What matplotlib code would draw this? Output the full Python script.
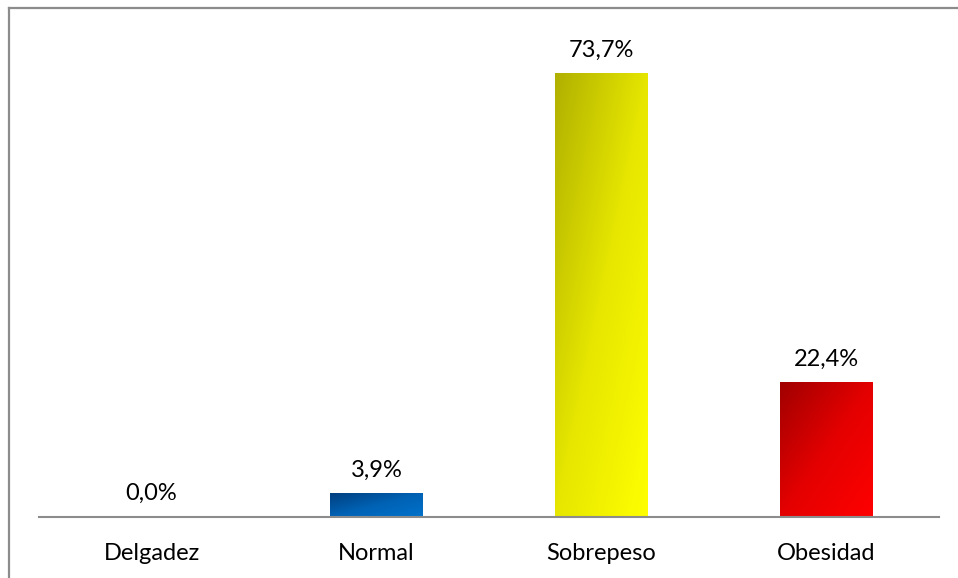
import numpy as np
import matplotlib
matplotlib.use("Agg")
import matplotlib.pyplot as plt
from matplotlib.colors import LinearSegmentedColormap
from matplotlib.lines import Line2D

categories = ["Delgadez", "Normal", "Sobrepeso", "Obesidad"]
values = [0.0, 3.9, 73.7, 22.4]
labels = ["0,0%", "3,9%", "73,7%", "22,4%"]
dark_colors = ["#203864", "#003f7f", "#b0b000", "#a00000"]
mid_colors = ["#3560a8", "#0062b4", "#e6e600", "#e40000"]
light_colors = ["#4472c4", "#0072cc", "#ffff00", "#ff0000"]

W, H = 958, 578
fig = plt.figure(figsize=(W / 100, H / 100), dpi=100)
fig.patch.set_facecolor("white")
plt.rcParams['font.family'] = ['Lato', 'DejaVu Sans']

ax = fig.add_axes([39 / W, (H - 517) / H, 900 / W, 492 / H])
ax.set_facecolor("none")

bar_w = 0.41
x = np.arange(len(categories))
bars = ax.bar(x, values, width=bar_w, color="none", edgecolor="none")

gx, gy = np.meshgrid(np.linspace(0, 1, 128), np.linspace(0, 1, 128))
for i, b in enumerate(bars):
    v = values[i]
    if v <= 0:
        continue
    x0 = b.get_x()
    cmap = LinearSegmentedColormap.from_list(
        "g", [(0.0, dark_colors[i]), (0.5, mid_colors[i]), (1.0, light_colors[i])])
    # diagonal gradient: darker at top-left, brighter at bottom-right
    t = 0.5 * gx + 0.5 * gy
    ax.imshow(t, cmap=cmap, vmin=0, vmax=1, extent=[x0, x0 + bar_w, 0, v],
              aspect="auto", origin="upper", zorder=2, interpolation="bilinear")

ax.set_xlim(-0.5, len(categories) - 0.5)
ax.set_ylim(0, 492 / 6.02)

for i, v in enumerate(values):
    ax.annotate(labels[i], (x[i], v), xytext=(0, 12), textcoords="offset points",
                ha="center", va="baseline", fontsize=17, color="#000000")

for s in ["top", "right", "left"]:
    ax.spines[s].set_visible(False)
ax.spines["bottom"].set_color("#8c8c8c")
ax.spines["bottom"].set_linewidth(1.5)
ax.set_yticks([])
ax.set_xticks(x)
ax.set_xticklabels(categories, fontsize=17, color="#000000")
ax.tick_params(axis="x", length=0, pad=19)

# chart area border (left and top visible)
fig.add_artist(Line2D([8.5 / W, 8.5 / W], [0, (H - 7.5) / H], transform=fig.transFigure,
                      color="#8c8c8c", lw=1.6))
fig.add_artist(Line2D([8.5 / W, 1], [(H - 7.5) / H, (H - 7.5) / H], transform=fig.transFigure,
                      color="#8c8c8c", lw=1.6))

fig.savefig("out.png", dpi=100, facecolor="white")
